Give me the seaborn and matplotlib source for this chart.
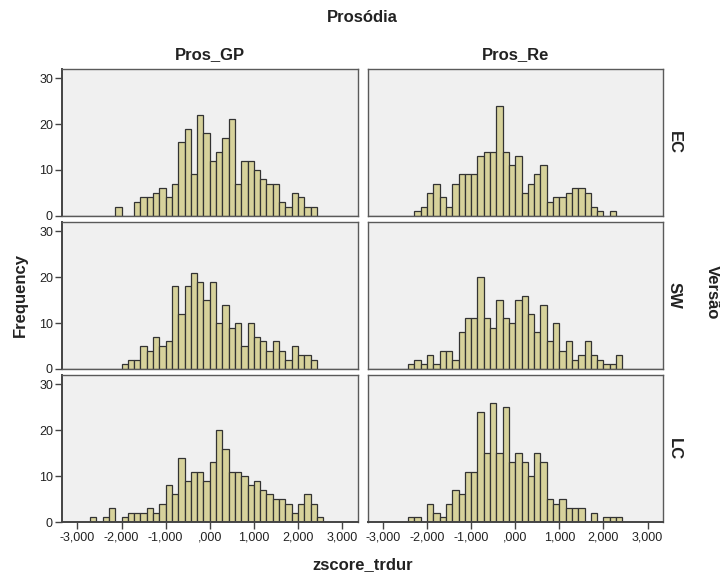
import numpy as np
import pandas as pd
import seaborn as sns
import matplotlib
matplotlib.use("Agg")
import matplotlib.pyplot as plt
from matplotlib.ticker import FuncFormatter

sns.set_theme(style="white")
plt.rcParams["font.family"] = ["Liberation Sans", "DejaVu Sans"]

# Histogram bins: width 1/7 of a z unit, indexed from zero
BIN_WIDTH = 1 / 7
versions = ["EC", "SW", "LC"]
prosodies = ["Pros_GP", "Pros_Re"]

# Frequencies per bin, starting at the given bin index
ec_gp_first = -15
ec_gp_counts = [2, 0, 0, 3, 4, 4, 5, 6, 4, 7, 16, 19, 9, 22, 18, 12, 14, 17, 21, 7,
                12, 12, 10, 8, 7, 7, 3, 2, 5, 4, 2, 2]
ec_re_first = -16
ec_re_counts = [1, 2, 5, 7, 4, 2, 7, 9, 9, 9, 13, 14, 14, 24, 14, 11, 13, 5, 7, 9,
                11, 3, 4, 4, 5, 6, 6, 5, 2, 1, 0, 1]
sw_gp_first = -14
sw_gp_counts = [1, 2, 2, 5, 4, 7, 5, 6, 18, 12, 18, 21, 19, 15, 19, 10, 14, 9, 10, 5,
                10, 7, 6, 4, 6, 4, 2, 5, 3, 3, 2]
sw_re_first = -17
sw_re_counts = [1, 2, 1, 3, 1, 4, 4, 2, 8, 11, 11, 20, 11, 9, 15, 11, 10, 15, 16, 12,
                8, 14, 6, 10, 4, 6, 2, 3, 6, 3, 2, 1, 1, 3]
lc_gp_first = -19
lc_gp_counts = [1, 0, 1, 3, 0, 1, 2, 2, 2, 3, 2, 4, 8, 6, 14, 9, 11, 11, 9, 13,
                20, 16, 11, 11, 10, 8, 9, 7, 6, 5, 5, 4, 2, 4, 6, 4, 1]
lc_re_first = -17
lc_re_counts = [1, 1, 0, 4, 2, 1, 4, 7, 6, 11, 11, 24, 15, 26, 15, 25, 13, 15, 13, 10,
                15, 13, 5, 4, 5, 3, 3, 3, 0, 2, 0, 1, 1, 1]

x_ticks = [-3, -2, -1, 0, 1, 2, 3]
y_ticks = [0, 10, 20, 30]

panels = {
    ("EC", "Pros_GP"): (ec_gp_first, ec_gp_counts),
    ("EC", "Pros_Re"): (ec_re_first, ec_re_counts),
    ("SW", "Pros_GP"): (sw_gp_first, sw_gp_counts),
    ("SW", "Pros_Re"): (sw_re_first, sw_re_counts),
    ("LC", "Pros_GP"): (lc_gp_first, lc_gp_counts),
    ("LC", "Pros_Re"): (lc_re_first, lc_re_counts),
}

rows = []
for (ver, pros), (first, counts) in panels.items():
    for i, c in enumerate(counts):
        rows.append({"Versão": ver, "Prosódia": pros,
                     "zscore_trdur": (first + i + 0.5) * BIN_WIDTH, "freq": c})
df = pd.DataFrame(rows)

bin_range = (-24 * BIN_WIDTH, 24 * BIN_WIDTH)

FILL = "#d7d29b"
EDGE = "#333333"
PANEL_BG = "#f0f0f0"
FRAME = "#5a5a5a"
TXT = "#222222"

g = sns.FacetGrid(df, row="Versão", col="Prosódia", row_order=versions,
                  col_order=prosodies, sharex=True, sharey=True, despine=False,
                  height=1.5, aspect=2.0)
g.map_dataframe(sns.histplot, x="zscore_trdur", weights="freq",
                binwidth=BIN_WIDTH, binrange=bin_range,
                color=FILL, edgecolor=EDGE, linewidth=0.9, alpha=1.0)

fig = g.figure
fig.set_size_inches(7.2, 5.75)
fig.subplots_adjust(left=62 / 720, right=663 / 720, bottom=1 - 522 / 575,
                    top=1 - 69 / 575, wspace=10 / 295.5, hspace=6.5 / 146.7)
g.set_axis_labels("", "")


def zfmt(v, pos):
    s = f"{abs(v):.3f}"
    if s.startswith("0."):
        s = s[1:]
    s = s.replace(".", ",")
    return ("-" + s) if v < -1e-9 else s


for r in range(3):
    for c in range(2):
        ax = g.axes[r, c]
        ax.set_title("")
        ax.set_facecolor(PANEL_BG)
        ax.set_xlim(-3.35, 3.35)
        ax.set_ylim(0, 32)
        ax.set_xticks(x_ticks)
        ax.set_yticks(y_ticks)
        ax.xaxis.set_major_formatter(FuncFormatter(zfmt))
        for sp in ax.spines.values():
            sp.set_color(FRAME)
            sp.set_linewidth(1.0)
        ax.tick_params(axis="both", direction="out", length=5, width=1.0,
                       color="#444444", labelsize=9, labelcolor=TXT, pad=1.5)
        ax.tick_params(axis="y", left=(c == 0), labelleft=(c == 0))
        ax.tick_params(axis="x", bottom=(r == 2), labelbottom=(r == 2))
        if c == 0:
            ax.spines["left"].set_color("#444444")
            ax.spines["left"].set_linewidth(1.4)
        if r == 2:
            ax.spines["bottom"].set_color("#444444")
            ax.spines["bottom"].set_linewidth(1.4)
        ax.set_xlabel("")
        ax.set_ylabel("")

# Facet headers and axis titles
bold = dict(fontsize=12, fontweight="bold", color=TXT)
fig.text(0.503, 1 - 18 / 575, "Prosódia", ha="center", va="center", **bold)
for c, name in enumerate(prosodies):
    pos = g.axes[0, c].get_position()
    fig.text((pos.x0 + pos.x1) / 2, 1 - 55 / 575, name, ha="center", va="center", **bold)
for r, name in enumerate(versions):
    pos = g.axes[r, 1].get_position()
    fig.text(674 / 720, (pos.y0 + pos.y1) / 2, name, ha="center", va="center",
             rotation=270, **bold)
fig.text(712 / 720, 1 - 292 / 575, "Versão", ha="center", va="center",
         rotation=270, **bold)
fig.text(20 / 720, 1 - 295 / 575, "Frequency", ha="center", va="center",
         rotation=90, **bold)
fig.text(363 / 720, 1 - 565 / 575, "zscore_trdur", ha="center", va="center", **bold)

fig.savefig("out.png", dpi=100, facecolor="white")
